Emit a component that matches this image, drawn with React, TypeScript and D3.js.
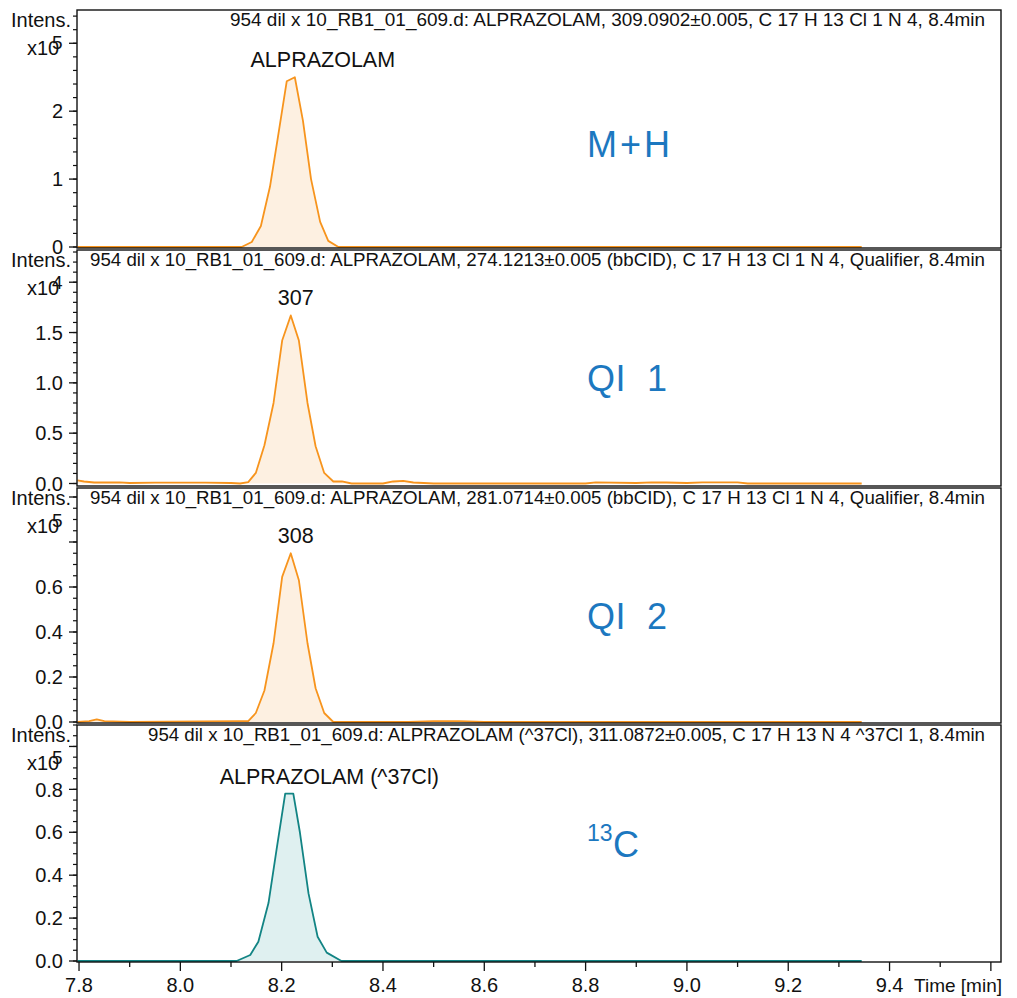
import React from "react";
import * as d3 from "d3";

// ---------- data ----------
const mhTimes = [7.797, 8.104, 8.121, 8.141, 8.159, 8.177, 8.192, 8.21, 8.226, 8.242, 8.258, 8.276, 8.292, 8.312, 9.345];
const mhValues = [0, 0, 0, 0.074, 0.31, 0.89, 1.59, 2.44, 2.5, 1.86, 1.0, 0.37, 0.09, 0, 0];

const qi1Times = [7.797, 7.81, 7.83, 7.86, 7.88, 7.9, 7.95, 8.05, 8.1, 8.118, 8.134, 8.149, 8.166, 8.184, 8.201, 8.218, 8.234, 8.251, 8.267, 8.284, 8.302, 8.319, 8.338, 8.4, 8.42, 8.44, 8.46, 8.5, 8.8, 8.82, 8.9, 8.93, 8.96, 9.0, 9.03, 9.1, 9.12, 9.345];
const qi1Values = [0.03, 0.02, 0.01, 0.01, 0.012, 0.005, 0.008, 0.008, 0.005, 0.0, 0.013, 0.105, 0.38, 0.8, 1.42, 1.67, 1.42, 0.8, 0.37, 0.105, 0.02, 0.02, 0.0, 0.0, 0.02, 0.026, 0.01, 0.0, 0.0, 0.012, 0.005, 0.012, 0.01, 0.005, 0.012, 0.012, 0.0, 0.0];

const qi2Times = [7.797, 7.82, 7.835, 7.85, 7.9, 8.114, 8.134, 8.149, 8.166, 8.184, 8.201, 8.218, 8.234, 8.251, 8.267, 8.284, 8.302, 8.45, 8.5, 8.55, 8.6, 9.345];
const qi2Values = [0, 0.004, 0.012, 0.004, 0, 0.004, 0.004, 0.04, 0.14, 0.35, 0.645, 0.75, 0.63, 0.35, 0.15, 0.04, 0, 0, 0.004, 0.004, 0, 0];

const c13Times = [7.797, 8.111, 8.138, 8.154, 8.174, 8.19, 8.207, 8.223, 8.236, 8.253, 8.271, 8.289, 8.318, 9.345];
const c13Values = [0, 0, 0.028, 0.09, 0.27, 0.52, 0.78, 0.78, 0.6, 0.315, 0.113, 0.039, 0, 0];

const titles = [
  "954 dil x 10_RB1_01_609.d: ALPRAZOLAM, 309.0902\u00b10.005, C 17 H 13 Cl 1 N 4, 8.4min",
  "954 dil x 10_RB1_01_609.d: ALPRAZOLAM, 274.1213\u00b10.005 (bbCID), C 17 H 13 Cl 1 N 4, Qualifier, 8.4min",
  "954 dil x 10_RB1_01_609.d: ALPRAZOLAM, 281.0714\u00b10.005 (bbCID), C 17 H 13 Cl 1 N 4, Qualifier, 8.4min",
  "954 dil x 10_RB1_01_609.d: ALPRAZOLAM (^37Cl), 311.0872\u00b10.005, C 17 H 13 N 4 ^37Cl 1, 8.4min",
];
const peakLabels = ["ALPRAZOLAM", "307", "308", "ALPRAZOLAM (^37Cl)"];
const tags = ["M+H", "QI\u00a0\u00a01", "QI\u00a0\u00a02", "C"];
const exponents = ["5", "4", "5", "5"];
const yMaxes = [3.49, 2.32, 1.04, 1.1];
const yMajorSteps = [1, 0.5, 0.2, 0.2];
const yMinorSteps = [0.2, 0.1, 0.05, 0.05];
const yLabelCounts = [3, 4, 4, 5];
const xMajorTicks = [7.8, 8.0, 8.2, 8.4, 8.6, 8.8, 9.0, 9.2, 9.4, 9.6];
const xTickLabels = ["7.8", "8.0", "8.2", "8.4", "8.6", "8.8", "9.0", "9.2", "9.4", ""];
const xMinorTicks = [7.9, 8.1, 8.3, 8.5, 8.7, 8.9, 9.1, 9.3, 9.5];

// ---------- layout ----------
const W = 1017;
const H = 998;
const left = 77;
const right = 1001;
const panelTops = [10, 250, 488, 725];
const panelBottoms = [248, 486, 723, 962];
const zeroYs = [247, 483.5, 722, 961];
const titleStarts = [230, 90, 90, 148];
const titleEnd = 985;
const ORANGE = "#f7941d";
const ORANGE_FILL = "#fdf0e1";
const TEAL = "#128484";
const TEAL_FILL = "#dff0f0";
const BLUE = "#1c78c0";
const FONT = "'Liberation Sans', Arial, sans-serif";

const x = d3.scaleLinear().domain([7.796, 9.62]).range([left, right]);

const series = [
  { t: mhTimes, v: mhValues },
  { t: qi1Times, v: qi1Values },
  { t: qi2Times, v: qi2Values },
  { t: c13Times, v: c13Values },
];

function Panel({ i }: { i: number }) {
  const top = panelTops[i];
  const bottom = panelBottoms[i];
  const zero = zeroYs[i];
  const y = d3.scaleLinear().domain([0, yMaxes[i]]).range([zero, top]);
  const s = series[i];
  const pts: [number, number][] = s.t.map((t, k) => [t, s.v[k]]);
  const line = d3.line<[number, number]>().x((d) => x(d[0])).y((d) => y(d[1]));
  const area = d3
    .area<[number, number]>()
    .x((d) => x(d[0]))
    .y0(y(0))
    .y1((d) => y(d[1]));
  const isTeal = i === 3;
  const stroke = isTeal ? TEAL : ORANGE;
  const fill = isTeal ? TEAL_FILL : ORANGE_FILL;

  const majors = d3.range(0, yMaxes[i] + 1e-9, yMajorSteps[i]);
  const minors = d3.range(0, yMaxes[i] + 1e-9, yMinorSteps[i]);
  const decimals = yMajorSteps[i] < 1 ? 1 : 0;

  let pk = 0;
  s.v.forEach((v, k) => {
    if (v > s.v[pk]) pk = k;
  });
  const peakX = d3.mean(s.t.filter((_, k) => s.v[k] >= s.v[pk] - 1e-9).map((t) => x(t))) as number;
  const peakY = y(s.v[pk]);
  const labelShift = [28, 5, 5, 40];

  return (
    <g>
      <path d={area(pts) || ""} fill={fill} stroke="none" />
      <path d={line(pts) || ""} fill="none" stroke={stroke} strokeWidth={1.8} strokeLinejoin="round" />
      <rect x={left} y={top} width={right - left} height={bottom - top} fill="none" stroke="#111" strokeWidth={1.4} />
      {minors.map((v, k) => (
        <line key={"mn" + k} x1={left - 4} x2={left} y1={y(v)} y2={y(v)} stroke="#111" strokeWidth={1.2} />
      ))}
      {majors.map((v, k) => (
        <line key={"mj" + k} x1={left - 8} x2={left} y1={y(v)} y2={y(v)} stroke="#111" strokeWidth={1.3} />
      ))}
      {majors.slice(0, yLabelCounts[i]).map((v, k) => (
        <text key={"lb" + k} x={left - 14} y={y(v)} dy="0.36em" textAnchor="end" fontSize={20} fontFamily={FONT} fill="#111">
          {v.toFixed(decimals)}
        </text>
      ))}
      <text x={11} y={top + 17} fontSize={20} fontFamily={FONT} fill="#111">Intens.</text>
      <text x={27} y={top + 45} fontSize={20} fontFamily={FONT} fill="#111">x10</text>
      <text x={52} y={top + 39} fontSize={19} fontFamily={FONT} fill="#111">{exponents[i]}</text>
      <text
        x={titleStarts[i]}
        y={top + 16}
        textLength={titleEnd - titleStarts[i]}
        lengthAdjust="spacingAndGlyphs"
        fontSize={18.3}
        fontFamily={FONT}
        fill="#111"
      >
        {titles[i]}
      </text>
      <text x={peakX + labelShift[i]} y={peakY - 10} textAnchor="middle" fontSize={21.5} fontFamily={FONT} fill="#111">
        {peakLabels[i]}
      </text>
      {i < 3 ? (
        <text
          x={587}
          y={top + (i === 0 ? 147 : 141)}
          fontSize={36}
          fontFamily={FONT}
          fill={BLUE}
          letterSpacing={i === 0 ? 3 : 0.5}
        >
          {tags[i]}
        </text>
      ) : (
        <g>
          <text x={587} y={top + 116} fontSize={23} fontFamily={FONT} fill={BLUE}>13</text>
          <text x={613} y={top + 132} fontSize={36} fontFamily={FONT} fill={BLUE}>{tags[i]}</text>
        </g>
      )}
    </g>
  );
}

export default function App() {
  const axisY = panelBottoms[3];
  return (
    <svg width={W} height={H} style={{ position: "absolute", left: 0, top: 0, background: "#fff" }}>
      <rect x={0} y={0} width={W} height={H} fill="#fff" />
      {[0, 1, 2, 3].map((i) => (
        <Panel key={i} i={i} />
      ))}
      {xMinorTicks.map((t, k) => (
        <line key={"xm" + k} x1={x(t)} x2={x(t)} y1={axisY} y2={axisY + 5} stroke="#111" strokeWidth={1.3} />
      ))}
      {xMajorTicks.map((t, k) => (
        <g key={"xM" + k}>
          <line x1={x(t)} x2={x(t)} y1={axisY} y2={axisY + 9} stroke="#111" strokeWidth={1.3} />
          <text x={x(t)} y={axisY + 30} textAnchor="middle" fontSize={20} fontFamily={FONT} fill="#111">
            {xTickLabels[k]}
          </text>
        </g>
      ))}
      <text x={1002} y={axisY + 30} textAnchor="end" fontSize={19} fontFamily={FONT} fill="#111">
        Time [min]
      </text>
    </svg>
  );
}
